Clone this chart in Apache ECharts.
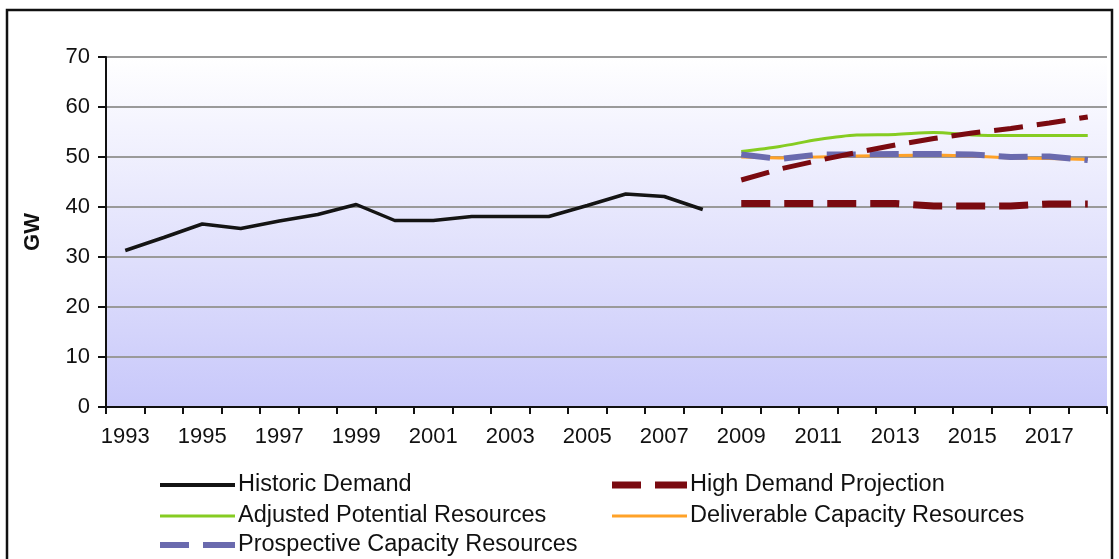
<!DOCTYPE html>
<html>
<head>
<meta charset="utf-8">
<script src="https://cdn.jsdelivr.net/npm/echarts@6/dist/echarts.min.js"></script>
<style>
html,body{margin:0;padding:0;background:#fff;}
#chart{width:1119px;height:559px;}
</style>
</head>
<body>
<div id="chart"></div>
<script>
// Categories (years)
const years = ['1993','1994','1995','1996','1997','1998','1999','2000','2001','2002','2003','2004','2005','2006','2007','2008','2009','2010','2011','2012','2013','2014','2015','2016','2017','2018'];
// Historic demand 1993-2008
const historicDemand = [31.3,33.9,36.6,35.7,37.2,38.5,40.5,37.3,37.3,38.1,38.1,38.1,40.3,42.6,42.1,39.5];
// Projections 2009-2018
const highDemandRising = [45.4,47.6,49.3,50.9,52.4,53.7,54.8,55.7,56.8,58.0];
const highDemandFlat = [40.7,40.7,40.7,40.7,40.7,40.2,40.2,40.2,40.6,40.6];
const adjustedPotential = [51.1,52.1,53.5,54.4,54.5,54.9,54.4,54.3,54.3,54.3];
const deliverableCapacity = [50.0,49.8,50.0,50.2,50.3,50.4,50.2,49.8,49.7,49.5];
const prospectiveCapacity = [50.5,49.6,50.5,50.5,50.6,50.6,50.5,50.0,50.1,49.4];
const yTicks = {min:0, max:70, interval:10};

function pad(arr, startYear){
  const out = years.map(() => null);
  const idx = years.indexOf(startYear);
  arr.forEach((v,i) => { out[idx+i] = v; });
  return out;
}

const font = "'Liberation Sans', Arial, sans-serif";
const chart = echarts.init(document.getElementById('chart'), null, {renderer:'canvas'});

function solidIcon(h){ return 'path://M0,0H75V' + h + 'H0Z'; }
function dashIcon(h){ return 'path://M0,0H29V' + h + 'H0Z M43,0H75V' + h + 'H43Z'; }

function legendRow(name, left, top, dashed, h){
  return {
    data:[{name:name, icon: dashed ? dashIcon(h) : solidIcon(h)}], left:left, top:top, padding:0,
    itemWidth:75, itemHeight:h, itemGap:0, selectedMode:false,
    textStyle:{fontFamily:font, fontSize:23.5, color:'#111', padding:[0,0,0,-2]}
  };
}

const option = {
  backgroundColor:'#ffffff',
  animation:false,
  graphic:[{
    type:'rect', shape:{x:7, y:10, width:1105, height:570},
    style:{fill:'none', stroke:'#111', lineWidth:2.5}, z:-1
  }],
  grid:{
    left:106, right:12, top:57, bottom:152, show:true, borderWidth:0,
    backgroundColor: new echarts.graphic.LinearGradient(0,0,0,1,[
      {offset:0, color:'#ffffff'},
      {offset:1, color:'#c8c8fa'}
    ])
  },
  legend:[
    legendRow('Historic Demand', 160, 473, false, 4),
    legendRow('Adjusted Potential Resources', 160, 504, false, 3),
    legendRow('Prospective Capacity Resources', 160, 533, true, 6),
    legendRow('High Demand Projection', 612, 473, true, 7),
    legendRow('Deliverable Capacity Resources', 612, 504, false, 3)
  ],
  xAxis:{
    type:'category', data:years, boundaryGap:true,
    axisLine:{lineStyle:{color:'#111', width:2}},
    axisTick:{show:true, interval:0, length:7, lineStyle:{color:'#111', width:2}},
    axisLabel:{interval:1, color:'#111', fontFamily:font, fontSize:22, margin:19},
    splitLine:{show:false}
  },
  yAxis:{
    type:'value', min:yTicks.min, max:yTicks.max, interval:yTicks.interval,
    name:'GW', nameLocation:'middle', nameGap:62, nameRotate:90,
    nameTextStyle:{fontFamily:font, fontSize:22, fontWeight:'bold', color:'#111'},
    axisLine:{show:true, lineStyle:{color:'#111', width:2}},
    axisTick:{show:true, length:8, lineStyle:{color:'#111', width:2}},
    axisLabel:{color:'#111', fontFamily:font, fontSize:22, margin:16},
    splitLine:{show:true, lineStyle:{color:'#9a9a9a', width:2}}
  },
  series:[
    {name:'Historic Demand', type:'line', data:pad(historicDemand,'1993'), showSymbol:false, symbol:'none',
     lineStyle:{color:'#141414', width:3.5}, itemStyle:{color:'#141414'}, z:5},
    {name:'Adjusted Potential Resources', type:'line', data:pad(adjustedPotential,'2009'), showSymbol:false, symbol:'none', smooth:0.3,
     lineStyle:{color:'#86cc22', width:3}, itemStyle:{color:'#86cc22'}, z:2},
    {name:'Deliverable Capacity Resources', type:'line', data:pad(deliverableCapacity,'2009'), showSymbol:false, symbol:'none',
     lineStyle:{color:'#ffa228', width:3}, itemStyle:{color:'#ffa228'}, z:3},
    {name:'Prospective Capacity Resources', type:'line', data:pad(prospectiveCapacity,'2009'), showSymbol:false, symbol:'none',
     lineStyle:{color:'#6a6aae', width:6, type:[29,14]}, itemStyle:{color:'#6a6aae'}, z:4},
    {name:'High Demand Projection', type:'line', data:pad(highDemandRising,'2009'), showSymbol:false, symbol:'none',
     lineStyle:{color:'#7a0a10', width:5, type:[29,14]}, itemStyle:{color:'#7a0a10'}, z:6},
    {name:'High Demand Projection', type:'line', data:pad(highDemandFlat,'2009'), showSymbol:false, symbol:'none',
     lineStyle:{color:'#7a0a10', width:7, type:[29,14]}, itemStyle:{color:'#7a0a10'}, z:6}
  ]
};
chart.setOption(option);
</script>
</body>
</html>
